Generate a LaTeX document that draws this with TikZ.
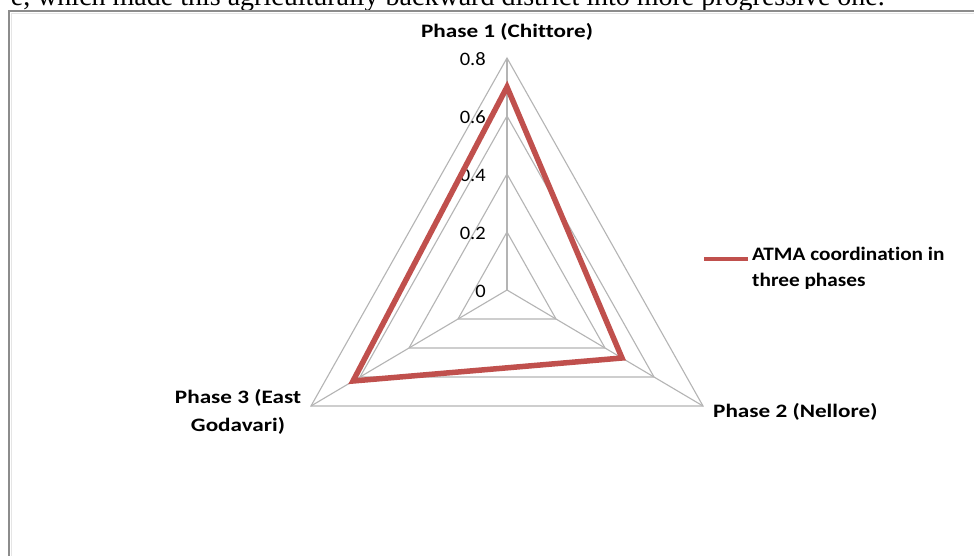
\documentclass[tikz,border=0pt]{standalone}
\usepackage{fontspec}
\setmainfont[Ligatures=NoCommon]{Carlito}
\newfontfamily\bodyserif{Liberation Serif}
\definecolor{seriesred}{HTML}{C0504D}
\definecolor{gridgray}{HTML}{B4B4B4}
\definecolor{framegray}{HTML}{8C8C8C}
\newcommand{\sxc}[1]{\scalebox{1.22}[1]{#1}}
\newcommand{\sxl}[1]{\scalebox{1.12}[1]{#1}}
\newcommand{\sxt}[1]{\scalebox{1.08}[1]{#1}}
\begin{document}
\begin{tikzpicture}[x=1pt,y=-1pt,
  grid/.style={draw=gridgray,line width=1.1pt},
  series/.style={draw=seriesred,line width=5.5pt,line join=miter},
  ticklbl/.style={anchor=east,inner sep=0pt,font=\fontsize{19}{19}\selectfont},
  catlbl/.style={inner sep=0pt,font=\fontsize{19}{28}\selectfont\bfseries},
  leglbl/.style={inner sep=0pt,font=\fontsize{19}{26}\selectfont\bfseries,align=left,anchor=north west}]
\useasboundingbox (0,0) rectangle (974,556);
\fill[white] (0,0) rectangle (974,556);
% top body text (cut by page edge)
\node[anchor=base east,inner sep=0pt,font=\bodyserif\fontsize{28}{28}\selectfont] (bodytext) at (885,6)
  {e, which made this agriculturally backward district into more progressive one.};
% chart frame
\draw[framegray,line width=2pt] (9,556) -- (9,11.5) -- (974,11.5);
\draw[black!10,line width=1pt] (11.5,556) -- (11.5,14) -- (974,14);
% radar grid
\coordinate (C) at (507,290);
\foreach \f in {0.25,0.5,0.75,1} {
  \draw[grid] (507,290-232*\f) -- (507+196*\f,290+116*\f) -- (507-196*\f,290+116*\f) -- cycle;
}
\coordinate (T) at (507,58);
\coordinate (R) at (703,406);
\coordinate (L) at (311,406);
\draw[grid] (C) -- (T);
\draw[grid] (C) -- (R);
\draw[grid] (C) -- (L);
% tick labels
\node[ticklbl] (t0) at (486,291) {\sxt{0}};
\node[ticklbl] (t2) at (486,233) {\sxt{0.2}};
\node[ticklbl] (t4) at (486,175) {\sxt{0.4}};
\node[ticklbl] (t6) at (486,117) {\sxt{0.6}};
\node[ticklbl] (t8) at (486,59) {\sxt{0.8}};
% data series
\coordinate (d1) at (507,87);
\coordinate (d2) at (622,358);
\coordinate (d3) at (353,381);
\draw[series] (d1) -- (d2) -- (d3) -- cycle;
% category labels
\node[catlbl] (p1) at (507,32) {\sxc{Phase 1 (Chittore)}};
\node[catlbl,anchor=west] (p2) at (713,412) {\sxc{Phase 2 (Nellore)}};
\node[catlbl,align=center] (p3) at (238,412) {\sxc{Phase 3 (East}\\\sxc{Godavari)}};
% legend
\coordinate (lg1) at (704,259);
\coordinate (lg2) at (748,259);
\draw[seriesred,line width=4pt] (lg1) -- (lg2);
\node[leglbl] (leg) at (752,247) {\sxl{ATMA coordination in}\\\sxl{three phases}};
\end{tikzpicture}
\end{document}
